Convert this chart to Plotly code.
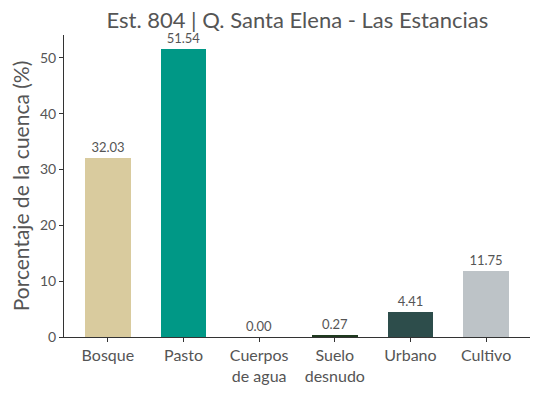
import plotly.graph_objects as go

categories = ["Bosque", "Pasto", "Cuerpos<br>de agua", "Suelo<br>desnudo", "Urbano", "Cultivo"]
values = [32.03, 51.54, 0.00, 0.27, 4.41, 11.75]
colors = ["#D9CB9E", "#009886", "#1E5B8C", "#1F3A1F", "#2D4D4B", "#BDC3C7"]
labels = [f"{v:.2f}" for v in values]

FONT = "Lato, 'Open Sans', sans-serif"
TXT = "#555555"

fig = go.Figure(go.Bar(
    x=list(range(len(categories))),
    y=values,
    width=0.6,
    marker=dict(color=colors, line=dict(width=0)),
    text=labels,
    textposition="outside",
    textfont=dict(size=13, color=TXT, family=FONT),
    cliponaxis=False,
))

# page body has an 8px default margin, so the figure is offset by 8px
fig.update_layout(
    width=530, height=385,
    margin=dict(l=56, r=8, t=27, b=56),
    plot_bgcolor="white", paper_bgcolor="white",
    font=dict(family=FONT, color=TXT),
    title=dict(text="Est. 804 | Q. Santa Elena - Las Estancias", x=0.546, xanchor="center",
               y=0.968, yanchor="middle", font=dict(size=22, color=TXT)),
    showlegend=False,
    bargap=0,
)
fig.update_xaxes(
    tickmode="array", tickvals=list(range(len(categories))), ticktext=categories,
    range=[-0.58, 5.58], showline=True, linecolor="#333333", linewidth=1,
    ticks="outside", ticklen=4, tickcolor="#333333", automargin=False,
    tickfont=dict(size=16, color=TXT), showgrid=False, zeroline=False,
)
fig.update_yaxes(
    range=[0, 54.12], dtick=10, showline=True, linecolor="#333333", linewidth=1,
    ticks="outside", ticklen=4, tickcolor="#333333", automargin=False,
    tickfont=dict(size=14, color=TXT), showgrid=False, zeroline=False,
    title=dict(text="Porcentaje de la cuenca (%)", font=dict(size=21, color=TXT), standoff=10),
)

fig.write_html("out.html")
